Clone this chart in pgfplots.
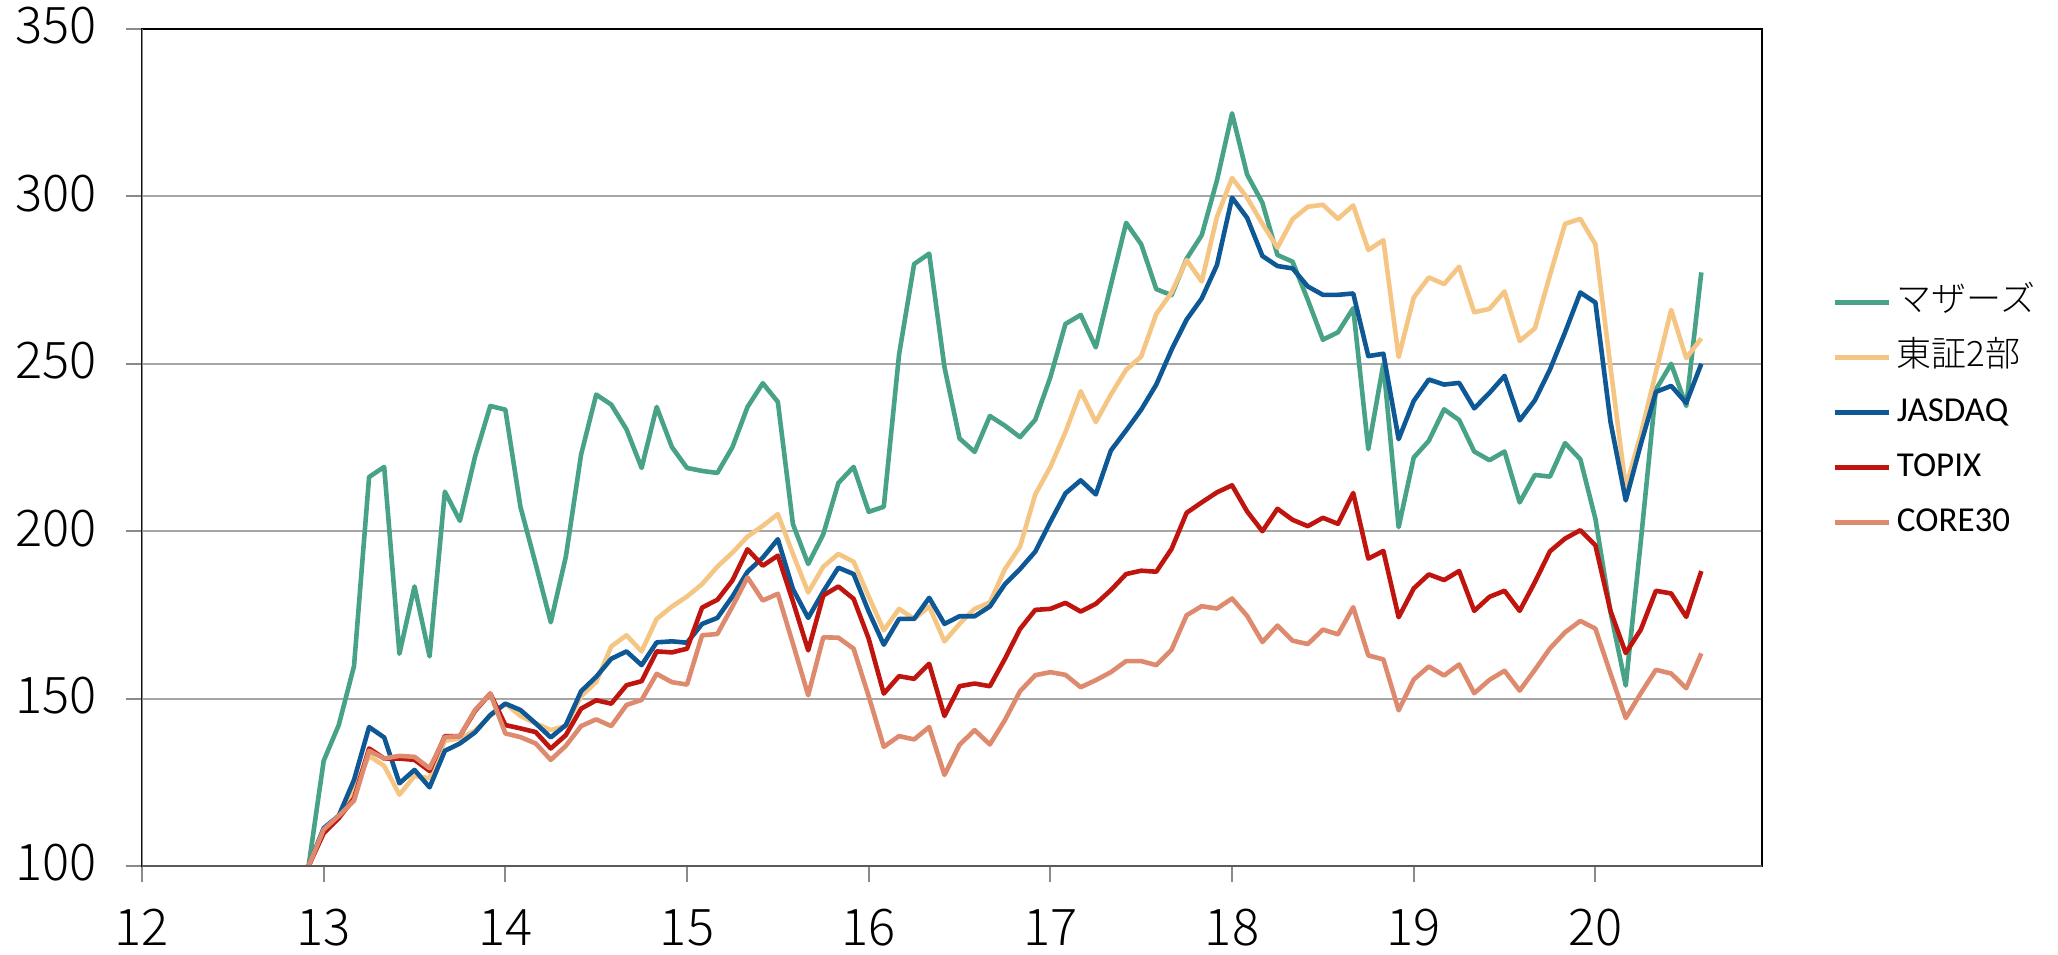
\documentclass[border=0pt]{standalone}
\usepackage{fontspec}
\setmainfont{Carlito}
\newfontfamily\jp{Noto Sans CJK JP}
\newfontfamily\jpl{Noto Sans CJK JP Light}
\usepackage{pgfplots}
\usepackage{pgfplotstable}
\pgfplotsset{compat=1.18}
\definecolor{cM}{HTML}{48A288}
\definecolor{cT}{HTML}{F5C584}
\definecolor{cJ}{HTML}{0F5896}
\definecolor{cP}{HTML}{C0150E}
\definecolor{cC}{HTML}{DE8A6E}
\definecolor{gridg}{HTML}{A6A6A6}
\definecolor{axg}{HTML}{8A8A8A}
\definecolor{axb}{HTML}{5A5A5A}
\pgfplotstableread{
x M T J P C
12.917 100 100 100 100 100
13.000 131.4 110.9 111.3 109.8 110.9
13.083 142.1 114.3 115.0 114.3 115.0
13.167 159.7 123.2 125.7 120.2 119.5
13.250 216.2 132.9 141.5 135.1 134.4
13.333 219.2 129.9 138.4 132.1 132.1
13.417 163.4 121.3 124.7 132.1 132.9
13.500 183.5 126.9 128.7 131.7 132.6
13.583 162.6 126.2 123.5 128.4 129.2
13.667 211.8 137.4 134.4 138.8 138.5
13.750 203.1 138.1 136.6 138.8 138.8
13.833 222.2 140.4 139.9 146.3 146.6
13.917 237.4 144.8 145.1 151.5 151.5
14.000 236.3 148.5 148.5 142.1 139.6
14.083 207.3 144.8 146.6 141.1 138.5
14.167 190.2 142.6 142.6 140.0 136.6
14.250 172.8 140.6 138.4 135.1 131.7
14.333 192.4 141.8 142.1 139.1 135.9
14.417 222.9 150.7 152.2 147.0 141.8
14.500 240.8 155.0 156.5 149.5 143.8
14.583 237.8 165.6 161.9 148.5 141.8
14.667 230.4 168.9 164.1 154.0 148.1
14.750 218.9 164.1 160.0 155.2 149.6
14.833 237.1 173.8 166.8 164.1 157.4
14.917 225.1 177.5 167.1 163.8 154.9
15.000 218.9 180.5 166.7 164.9 154.2
15.083 218.0 184.2 172.3 177.2 168.9
15.167 217.4 189.4 174.1 179.5 169.3
15.250 225.1 193.6 180.5 185.3 177.5
15.333 237.1 198.4 187.9 194.6 186.2
15.417 244.2 201.6 192.1 189.7 179.3
15.500 238.6 205.1 197.6 192.7 181.3
15.583 202.1 193.2 182.7 179.0 166.4
15.667 190.2 181.7 174.1 164.4 151.0
15.750 199.1 189.4 182.0 180.8 168.3
15.833 214.4 193.2 189.1 183.5 168.2
15.917 219.2 190.9 187.2 179.8 164.9
16.000 205.8 180.5 176.0 167.9 150.7
16.083 207.3 170.4 166.1 151.5 135.6
16.167 252.7 176.8 173.8 156.7 138.8
16.250 279.8 173.8 173.8 155.9 137.8
16.333 282.9 177.5 180.1 160.4 141.5
16.417 249.0 167.1 172.3 144.8 127.2
16.500 227.7 172.3 174.6 153.7 136.2
16.583 223.7 176.8 174.6 154.5 140.6
16.667 234.4 178.7 177.5 153.7 136.3
16.750 231.5 188.7 184.2 161.9 143.6
16.833 228.1 195.4 188.7 170.8 152.2
16.917 233.3 211.0 193.9 176.5 157.0
17.000 246.0 219.2 202.8 176.8 157.9
17.083 261.9 229.6 211.3 178.6 157.1
17.167 264.6 241.8 215.2 176.0 153.4
17.250 254.9 232.6 211.0 178.3 155.5
17.333 273.5 240.8 224.1 182.4 157.9
17.417 292.1 248.2 230.1 187.2 161.2
17.500 285.7 252.2 236.3 188.2 161.2
17.583 272.3 264.9 243.8 187.9 160.0
17.667 270.5 271.3 254.2 194.7 164.6
17.750 281.4 281.0 263.2 205.5 174.9
17.833 288.4 274.6 269.5 208.6 177.6
17.917 304.8 293.9 279.5 211.6 176.9
18.000 324.8 305.5 299.6 213.7 179.9
18.083 306.5 299.6 293.6 205.9 174.7
18.167 298.1 291.8 282.2 200.0 166.9
18.250 282.5 284.7 279.2 206.7 171.8
18.333 280.5 293.2 278.5 203.4 167.3
18.417 269.1 296.9 273.1 201.5 166.3
18.500 257.2 297.5 270.6 204.0 170.6
18.583 259.4 293.3 270.6 202.2 169.2
18.667 266.6 297.3 271.0 211.4 177.3
18.750 224.5 284.0 252.3 191.8 162.9
18.833 250.0 286.9 253.0 194.1 161.7
18.917 201.2 252.0 227.5 174.3 146.5
19.000 222.0 269.8 238.9 182.9 155.7
19.083 227.0 275.8 245.3 187.1 159.6
19.167 236.4 273.8 243.8 185.4 156.9
19.250 233.2 279.0 244.3 188.1 160.2
19.333 223.8 265.4 236.7 176.2 151.6
19.417 221.2 266.4 241.3 180.4 155.6
19.500 223.8 271.6 246.4 182.2 158.3
19.583 208.6 256.8 233.1 176.2 152.4
19.667 216.8 260.6 239.1 184.8 158.6
19.750 216.3 276.5 248.3 194.0 165.0
19.833 226.3 291.8 259.4 197.8 169.8
19.917 221.5 293.3 271.3 200.3 173.2
20.000 203.7 285.7 268.3 195.8 170.9
20.083 175.9 249.0 232.7 176.2 157.5
20.167 153.9 213.0 209.2 163.6 144.2
20.250 197.0 229.0 226.0 170.6 151.6
20.333 242.3 247.5 241.6 182.2 158.6
20.417 250.0 266.1 243.4 181.4 157.5
20.500 237.4 251.7 238.3 174.4 153.1
20.583 277.3 257.6 250.0 188.1 163.5
}\data
\begin{document}
\begin{tikzpicture}
\begin{axis}[
  scale only axis, width=810pt, height=418.5pt,
  xmin=12, xmax=20.917, ymin=100, ymax=350,
  xtick={12,13,...,20}, ytick={100,150,...,350},
  xtick pos=lower, ytick pos=left,
  tick align=outside, major tick length=8pt,
  major tick style={draw=axg, line width=1pt},
  ymajorgrids, grid style={draw=gridg, line width=1pt},
  axis line style={draw=black, line width=0.8pt},
  /pgf/number format/assume math mode=true,
  ticklabel style={font=\jpl\fontsize{25.3}{30}\selectfont},
  yticklabel style={anchor=east, inner sep=0pt, xshift=-14.5pt, yshift=1.5pt},
  xticklabel style={anchor=north, inner sep=0pt, yshift=-13.5pt},
  legend style={draw=none, fill=none, at={(axis description cs:1.0432,0.5418)}, anchor=west,
    inner sep=0pt, font=\fontsize{17.5}{20}\selectfont, row sep=11.5pt,
    nodes={inner sep=0pt, text height=12.5pt, text depth=3.5pt}},
  legend cell align=left,
  legend image code/.code={\draw[#1] (0pt,0pt) -- (27pt,0pt);},
  /tikz/every odd column/.append style={column sep=3pt},
  every axis plot/.append style={line width=2.3pt, line join=round, no markers},
]
\addplot[cM] table[x=x,y=M]{\data};
\addlegendentry{\jpl マザーズ}
\addplot[cT] table[x=x,y=T]{\data};
\addlegendentry{\jpl 東証2部}
\addplot[cJ] table[x=x,y=J]{\data};
\addlegendentry{JASDAQ}
\addplot[cP] table[x=x,y=P]{\data};
\addlegendentry{TOPIX}
\addplot[cC] table[x=x,y=C]{\data};
\addlegendentry{CORE30}
\draw[axg, line width=1.2pt] (rel axis cs:0,0) -- (rel axis cs:0,1);
\draw[axb, line width=1.2pt] (rel axis cs:0,0) -- (rel axis cs:1,0);
\end{axis}
\pgfresetboundingbox
\path (-71pt,-44pt) rectangle (958pt,433pt);
\end{tikzpicture}
\end{document}
